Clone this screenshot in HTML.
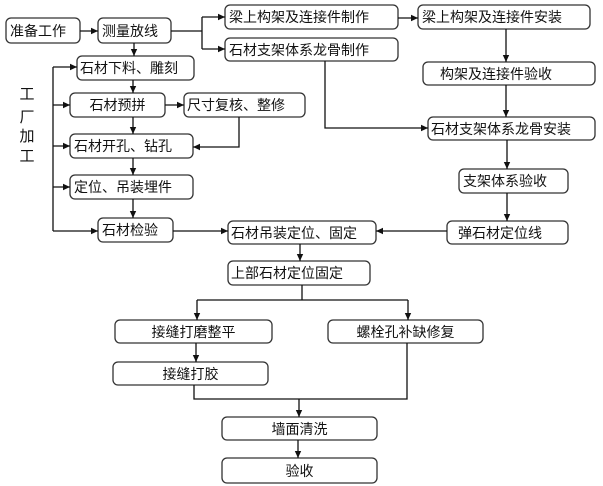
<!DOCTYPE html>
<html><head><meta charset="utf-8"><style>
html,body{margin:0;padding:0;background:#fff;}
svg{display:block;}
text{font-family:"Liberation Sans","Noto Sans CJK SC",sans-serif;font-size:14px;fill:#111;}
</style></head><body>
<svg width="603" height="486" viewBox="0 0 603 486" xmlns="http://www.w3.org/2000/svg">
<defs>
<marker id="a" markerWidth="8" markerHeight="8" refX="7" refY="4" orient="auto" markerUnits="userSpaceOnUse">
<path d="M0,0.8 L7,4 L0,7.2 Z" fill="#111"/>
</marker>
</defs>
<g fill="#fff" stroke="#333" stroke-width="1.3">
<rect x="6" y="18" width="74" height="25" rx="5"/>
<rect x="98" y="18" width="73" height="25" rx="5"/>
<rect x="225" y="5" width="173" height="24" rx="5"/>
<rect x="225" y="38" width="173" height="23" rx="5"/>
<rect x="418" y="5" width="172" height="24" rx="5"/>
<rect x="423" y="62" width="172" height="23" rx="5"/>
<rect x="428" y="117" width="167" height="23" rx="5"/>
<rect x="459" y="169" width="109" height="24" rx="5"/>
<rect x="447" y="221" width="121" height="23" rx="5"/>
<rect x="77" y="56" width="117" height="24" rx="5"/>
<rect x="70" y="93" width="95" height="24" rx="5"/>
<rect x="184" y="93" width="121" height="24" rx="5"/>
<rect x="70" y="134" width="123" height="24" rx="5"/>
<rect x="70" y="175" width="123" height="24" rx="5"/>
<rect x="98" y="218" width="75" height="24" rx="5"/>
<rect x="228" y="221" width="148" height="23" rx="5"/>
<rect x="228" y="261" width="142" height="24" rx="5"/>
<rect x="115" y="320" width="157" height="23" rx="5"/>
<rect x="328" y="320" width="155" height="23" rx="5"/>
<rect x="113" y="362" width="155" height="23" rx="5"/>
<rect x="222" y="417" width="155" height="23" rx="5"/>
<rect x="222" y="458" width="155" height="25" rx="5"/>
</g>
<g fill="none" stroke="#111" stroke-width="1.3">
<line x1="80" y1="31" x2="98" y2="31" marker-end="url(#a)"/>
<polyline points="171,31 202,31"/>
<line x1="202" y1="17" x2="202" y2="49"/>
<line x1="202" y1="17" x2="225" y2="17" marker-end="url(#a)"/>
<line x1="202" y1="49" x2="225" y2="49" marker-end="url(#a)"/>
<line x1="398" y1="18" x2="418" y2="18" marker-end="url(#a)"/>
<line x1="506" y1="29" x2="506" y2="62" marker-end="url(#a)"/>
<line x1="506" y1="85" x2="506" y2="117" marker-end="url(#a)"/>
<polyline points="325,61 325,128 428,128" marker-end="url(#a)"/>
<line x1="507" y1="140" x2="507" y2="169" marker-end="url(#a)"/>
<line x1="507" y1="193" x2="507" y2="221" marker-end="url(#a)"/>
<line x1="447" y1="231" x2="376" y2="231" marker-end="url(#a)"/>
<line x1="134" y1="43" x2="134" y2="56" marker-end="url(#a)"/>
<line x1="133" y1="80" x2="133" y2="93" marker-end="url(#a)"/>
<line x1="133" y1="117" x2="133" y2="134" marker-end="url(#a)"/>
<line x1="133" y1="158" x2="133" y2="175" marker-end="url(#a)"/>
<line x1="133" y1="199" x2="133" y2="218" marker-end="url(#a)"/>
<line x1="165" y1="105" x2="184" y2="105" marker-end="url(#a)"/>
<polyline points="239,117 239,147 193,147" marker-end="url(#a)"/>
<line x1="53" y1="67" x2="53" y2="231"/>
<line x1="53" y1="67" x2="77" y2="67" marker-end="url(#a)"/>
<line x1="53" y1="105" x2="70" y2="105" marker-end="url(#a)"/>
<line x1="53" y1="146" x2="70" y2="146" marker-end="url(#a)"/>
<line x1="53" y1="187" x2="70" y2="187" marker-end="url(#a)"/>
<line x1="53" y1="231" x2="98" y2="231" marker-end="url(#a)"/>
<line x1="173" y1="231" x2="228" y2="231" marker-end="url(#a)"/>
<line x1="300" y1="244" x2="300" y2="261" marker-end="url(#a)"/>
<line x1="302" y1="285" x2="302" y2="300"/>
<line x1="197" y1="300" x2="408" y2="300"/>
<line x1="197" y1="300" x2="197" y2="320" marker-end="url(#a)"/>
<line x1="408" y1="300" x2="408" y2="320" marker-end="url(#a)"/>
<line x1="196" y1="343" x2="196" y2="362" marker-end="url(#a)"/>
<polyline points="194,385 194,399 407,399 407,343"/>
<line x1="299" y1="399" x2="299" y2="417" marker-end="url(#a)"/>
<line x1="298" y1="440" x2="298" y2="458" marker-end="url(#a)"/>
</g>
<g>
<text x="10" y="36">准备工作</text>
<text x="102" y="36">测量放线</text>
<text x="229" y="22">梁上构架及连接件制作</text>
<text x="229" y="55">石材支架体系龙骨制作</text>
<text x="422" y="22">梁上构架及连接件安装</text>
<text x="440" y="79">构架及连接件验收</text>
<text x="431" y="134">石材支架体系龙骨安装</text>
<text x="463" y="186">支架体系验收</text>
<text x="458" y="238">弹石材定位线</text>
<text x="80" y="73">石材下料、雕刻</text>
<text x="117.5" y="110" text-anchor="middle">石材预拼</text>
<text x="187" y="110">尺寸复核、整修</text>
<text x="74" y="151">石材开孔、钻孔</text>
<text x="74" y="192">定位、吊装埋件</text>
<text x="102" y="235">石材检验</text>
<text x="231" y="238">石材吊装定位、固定</text>
<text x="231" y="278">上部石材定位固定</text>
<text x="193.5" y="337" text-anchor="middle">接缝打磨整平</text>
<text x="405.5" y="337" text-anchor="middle">螺栓孔补缺修复</text>
<text x="190.5" y="379" text-anchor="middle">接缝打胶</text>
<text x="299.5" y="434" text-anchor="middle">墙面清洗</text>
<text x="299.5" y="476" text-anchor="middle">验收</text>
<text x="27" y="99" text-anchor="middle" style="font-size:15px">工</text>
<text x="27" y="122" text-anchor="middle" style="font-size:15px">厂</text>
<text x="27" y="141" text-anchor="middle" style="font-size:15px">加</text>
<text x="27" y="161" text-anchor="middle" style="font-size:15px">工</text>
</g>
</svg>
</body></html>
